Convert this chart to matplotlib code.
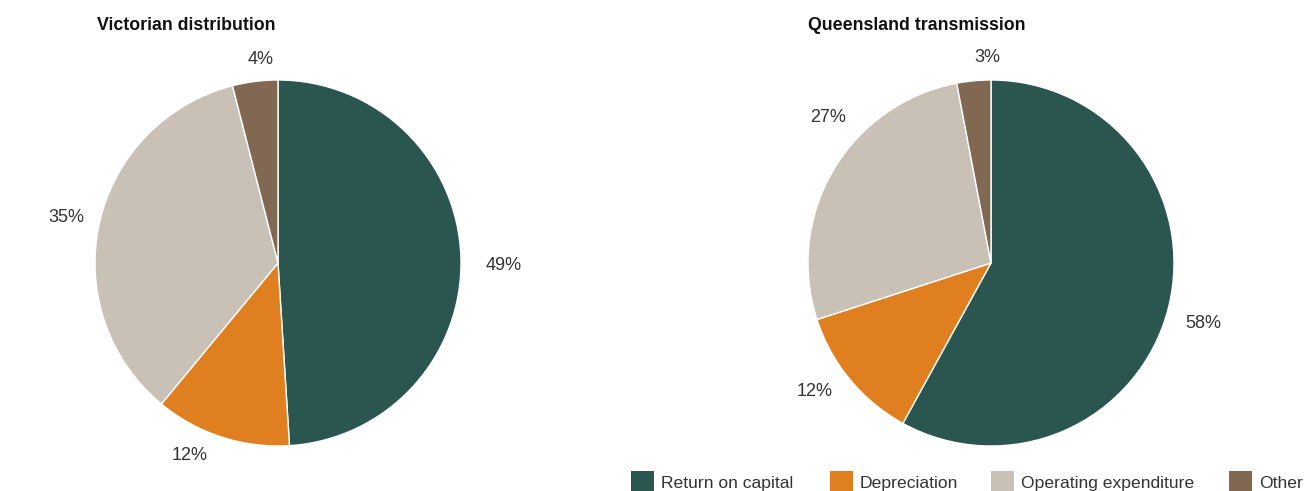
import matplotlib
matplotlib.use("Agg")
import matplotlib.pyplot as plt
from matplotlib.patches import Rectangle

plt.rcParams['font.family'] = ['Liberation Sans', 'DejaVu Sans']

categories = ["Return on capital", "Depreciation", "Operating expenditure", "Other"]
colors = ["#2b554f", "#e07f1f", "#c9c1b6", "#806852"]
vic_values = [49, 12, 35, 4]
qld_values = [58, 12, 27, 3]
titles = ["Victorian distribution", "Queensland transmission"]

W, H = 1305, 491
fig = plt.figure(figsize=(W / 100, H / 100), dpi=100)

# label centres (pixel positions) as seen in the reference layout
vic_label_px = [(504, 265), (190, 456), (66, 218), (261, 59)]
qld_label_px = [(1203, 324), (815, 391), (828, 117), (987, 58)]


def add_pie(cx, cy, r, values, title, title_x, label_px):
    ax = fig.add_axes([(cx - r) / W, (H - cy - r) / H, 2 * r / W, 2 * r / H])
    wedges, texts = ax.pie(values, colors=colors, startangle=90, counterclock=False,
                           labels=[f"{v}%" for v in values], labeldistance=1.19,
                           wedgeprops=dict(edgecolor="white", linewidth=1),
                           textprops=dict(fontsize=13, color="#333333"))
    for t, (px, py) in zip(texts, label_px):
        t.set_ha("center"); t.set_va("center")
        t.set_position(((px - cx) / r, (cy - py) / r))
    ax.set_xlim(-1, 1); ax.set_ylim(-1, 1)
    ax.set_aspect("equal")
    ax.axis("off")
    fig.text(title_x / W, 1 - 26 / H, title, fontsize=12.8, fontweight="bold",
             ha="left", va="center", color="#111111")
    return wedges

add_pie(278, 263, 183, vic_values, titles[0], 97, vic_label_px)
add_pie(991, 263, 183, qld_values, titles[1], 808, qld_label_px)

# legend
sq_x = [631, 830, 991, 1229]
for x, lab, c in zip(sq_x, categories, colors):
    fig.add_artist(Rectangle((x / W, 0), 23 / W, 20 / H, transform=fig.transFigure,
                             facecolor=c, edgecolor="none"))
    fig.text((x + 30) / W, 1 - 488 / H, lab, fontsize=12.6, color="#333333",
             ha="left", va="baseline")

fig.savefig("out.png", dpi=100)
